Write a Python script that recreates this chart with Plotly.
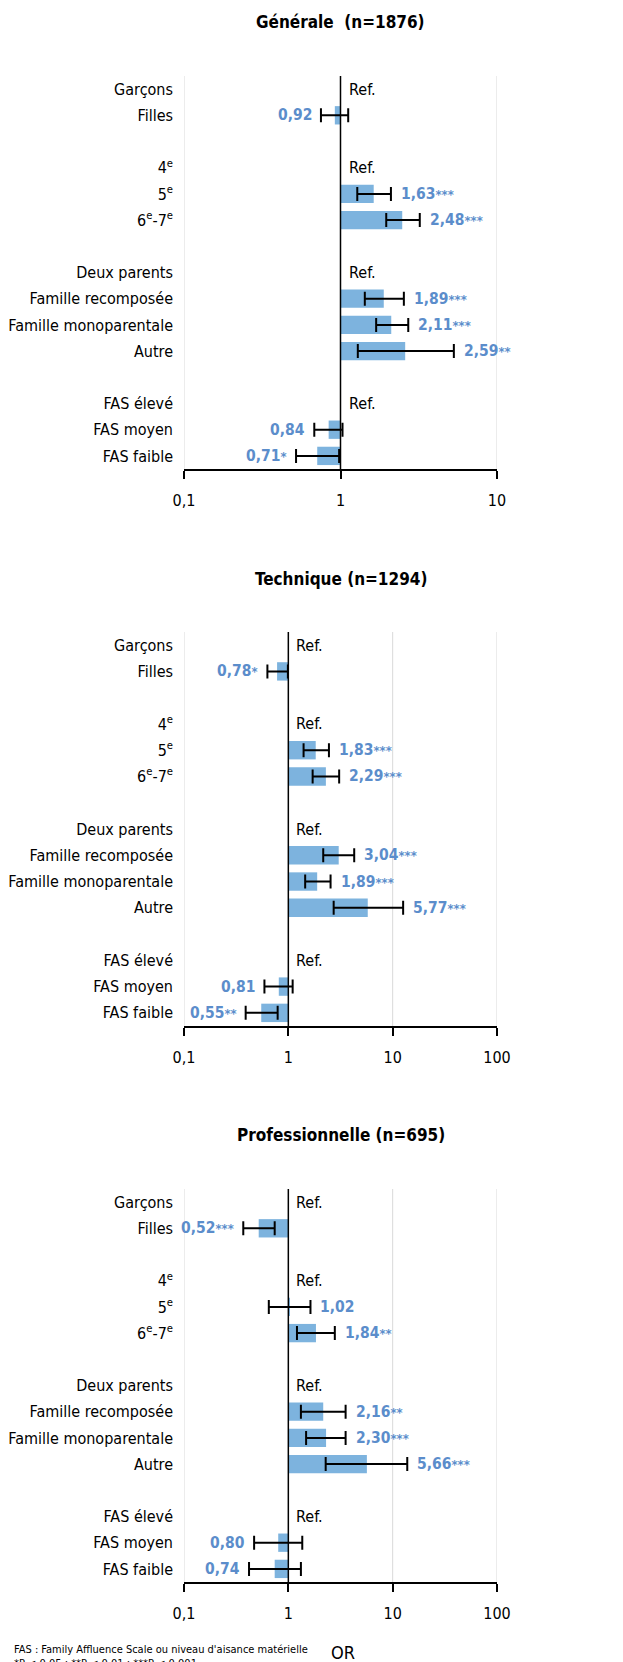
import math
import plotly.graph_objects as go
from plotly.subplots import make_subplots

# Catégories (les lignes vides séparent les groupes)
categories = ["Garçons", "Filles", " ",
              "4<sup>e</sup>", "5<sup>e</sup>", "6<sup>e</sup>-7<sup>e</sup>", "  ",
              "Deux parents", "Famille recomposée", "Famille monoparentale", "Autre", "   ",
              "FAS élevé", "FAS moyen", "FAS faible"]
ref_rows = ["Garçons", "4<sup>e</sup>", "Deux parents", "FAS élevé"]
rows = ["Filles", "5<sup>e</sup>", "6<sup>e</sup>-7<sup>e</sup>",
        "Famille recomposée", "Famille monoparentale", "Autre",
        "FAS moyen", "FAS faible"]

# Générale
generale_or = [0.92, 1.63, 2.48, 1.89, 2.11, 2.59, 0.84, 0.71]
generale_low = [0.75, 1.28, 1.96, 1.43, 1.69, 1.29, 0.68, 0.52]
generale_high = [1.12, 2.10, 3.21, 2.54, 2.71, 5.30, 1.03, 0.98]
generale_sig = ["", "***", "***", "***", "***", "**", "", "*"]

# Technique
technique_or = [0.78, 1.83, 2.29, 3.04, 1.89, 5.77, 0.81, 0.55]
technique_low = [0.63, 1.40, 1.71, 2.16, 1.45, 2.72, 0.59, 0.39]
technique_high = [0.99, 2.45, 3.07, 4.28, 2.54, 12.6, 1.10, 0.79]
technique_sig = ["*", "***", "***", "***", "***", "***", "", "**"]

# Professionnelle
pro_or = [0.52, 1.02, 1.84, 2.16, 2.30, 5.66, 0.80, 0.74]
pro_low = [0.37, 0.65, 1.21, 1.32, 1.48, 2.28, 0.47, 0.42]
pro_high = [0.74, 1.63, 2.79, 3.54, 3.54, 13.8, 1.36, 1.32]
pro_sig = ["***", "", "**", "**", "***", "***", "", ""]

titles = ["Générale\u00a0 (n=1876)", "Technique (n=1294)", "Professionnelle (n=695)"]
tick_vals = [0.1, 1, 10, 100]
tick_text = ["0,1", "1", "10", "100"]

FONT = "DejaVu Sans Condensed, sans-serif"
BAR = "#7DB3DE"
TXT = "#5B8DCB"

# la page ajoute 8 px de marge autour de la figure
OFF = 8
W = 623 - OFF
H = 1662 - OFF
L, R = 184 - OFF, 623 - 497
PW = W - L - R


def py(p):
    """position verticale (pixels de la page) -> fraction du papier"""
    return 1 - (p - OFF) / H


panels = [
    (generale_or, generale_low, generale_high, generale_sig, [-1, 1], 76, 469, 22),
    (technique_or, technique_low, technique_high, technique_sig, [-1, 2], 632, 1026, 579),
    (pro_or, pro_low, pro_high, pro_sig, [-1, 2], 1189, 1582, 1135),
]

fig = make_subplots(rows=3, cols=1)

for i, (vals, low, high, sig, xr, top, bot, ty) in enumerate(panels):
    r = i + 1
    xa = "x" if r == 1 else f"x{r}"
    ya = "y" if r == 1 else f"y{r}"
    nt = 3 if xr[1] == 1 else 4

    # quadrillage vertical (y compris aux bords)
    for tv in tick_vals[:nt]:
        if tv != 1:
            fig.add_shape(type="line", xref=xa, yref=f"{ya} domain", x0=tv, x1=tv, y0=0, y1=1,
                          line=dict(color="#d9d9d9", width=1), layer="below")

    # barres depuis OR = 1
    fig.add_trace(go.Bar(
        y=rows, x=[v - 1 for v in vals], base=1, orientation="h",
        marker=dict(color=BAR, line=dict(width=0)), width=0.7,
        showlegend=False, hoverinfo="skip"
    ), row=r, col=1)

    # intervalles de confiance
    fig.add_trace(go.Scatter(
        y=rows, x=vals, mode="markers",
        marker=dict(size=1, opacity=0),
        error_x=dict(type="data", symmetric=False,
                     array=[h - v for h, v in zip(high, vals)],
                     arrayminus=[v - l for v, l in zip(vals, low)],
                     color="black", thickness=2, width=7),
        showlegend=False, hoverinfo="skip"
    ), row=r, col=1)

    # ligne verticale à OR = 1
    fig.add_shape(type="line", xref=xa, yref=f"{ya} domain", x0=1, x1=1, y0=0, y1=1,
                  line=dict(color="black", width=1.5))

    # étiquettes OR
    for cat, v, l, h, s in zip(rows, vals, low, high, sig):
        txt = f"{v:.2f}".replace(".", ",")
        if s:
            txt += f"<span style='font-size:13px'>{s}</span>"
        if v >= 1:
            fig.add_annotation(x=math.log10(h), y=cat, xref=xa, yref=ya, text=txt,
                               showarrow=False, xanchor="left", xshift=8,
                               font=dict(family=FONT, size=15.5, color=TXT, weight="bold"))
        else:
            fig.add_annotation(x=math.log10(l), y=cat, xref=xa, yref=ya, text=txt,
                               showarrow=False, xanchor="right", xshift=-7,
                               font=dict(family=FONT, size=15.5, color=TXT, weight="bold"))

    for cat in ref_rows:
        fig.add_annotation(x=0, y=cat, xref=xa, yref=ya, text="Ref.", showarrow=False,
                           xanchor="left", xshift=6,
                           font=dict(family=FONT, size=16, color="black"))

    fig.add_annotation(x=0.5, y=py(ty), xref="paper", yref="paper", text=f"<b>{titles[i]}</b>",
                       showarrow=False, xanchor="center", yanchor="middle",
                       font=dict(family=FONT, size=17, color="black"))

    fig.update_xaxes(type="log", range=xr, domain=[0, 1],
                     tickvals=tick_vals[:nt], ticktext=tick_text[:nt],
                     showgrid=False, automargin=False,
                     showline=True, linecolor="black", linewidth=1.5,
                     ticks="outside", ticklen=8, tickwidth=1.5, tickcolor="black",
                     ticklabelstandoff=8, zeroline=False,
                     tickfont=dict(family=FONT, size=16, color="black"),
                     row=r, col=1)
    fig.update_yaxes(type="category", categoryorder="array", categoryarray=categories,
                     tickvals=categories, ticktext=categories,
                     range=[len(categories) - 0.5, -0.5],
                     domain=[py(bot), py(top)],
                     showgrid=False, showline=False, ticks="", zeroline=False,
                     automargin=False, ticklabelstandoff=10,
                     tickfont=dict(family=FONT, size=16, color="black"),
                     row=r, col=1)

fig.add_annotation(x=(343 - 184) / PW, y=py(1652), xref="paper", yref="paper", text="OR",
                   showarrow=False, xanchor="center", yanchor="middle",
                   font=dict(family=FONT, size=18, color="black"))

fig.add_annotation(x=(12 - 184) / PW, y=py(1641), xref="paper", yref="paper",
                   text="FAS : Family Affluence Scale ou niveau d'aisance matérielle<br>"
                        "*P < 0,05 ; **P < 0,01 ; ***P < 0,001",
                   showarrow=False, align="left", xanchor="left", yanchor="top",
                   font=dict(family=FONT, size=11, color="black"))

fig.update_layout(
    width=W, height=H,
    margin=dict(l=L, r=R, t=0, b=0, autoexpand=False),
    plot_bgcolor="white", paper_bgcolor="white",
    bargap=0.3, showlegend=False,
    font=dict(family=FONT, color="black"),
)

fig.write_html("out.html")
